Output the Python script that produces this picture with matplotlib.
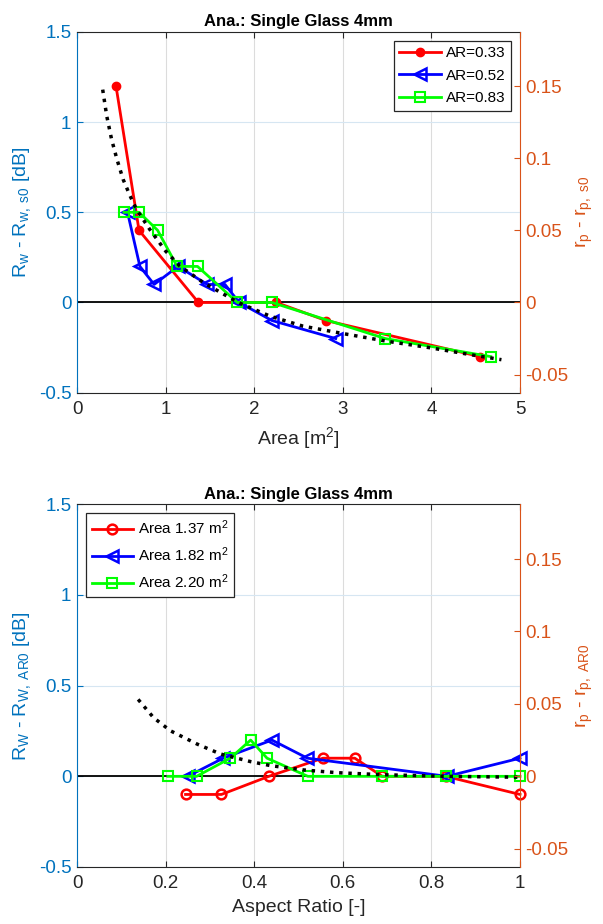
import numpy as np
import matplotlib.pyplot as plt

plt.rcParams['font.family'] = ['Liberation Sans', 'DejaVu Sans']
plt.rcParams['mathtext.fontset'] = 'custom'
plt.rcParams['mathtext.rm'] = 'Liberation Sans'
plt.rcParams['mathtext.it'] = 'Liberation Sans'

BLUE_AX = '#0072BD'
ORANGE_AX = '#D95319'

# --- area sweep (top) ---
area_033 = [0.44, 0.70, 1.37, 2.25, 2.81, 4.55]
drw_033 = [1.2, 0.4, 0.0, 0.0, -0.1, -0.3]

area_052 = [0.57, 0.71, 0.87, 1.14, 1.47, 1.67, 1.83, 2.20, 2.92]
drw_052 = [0.5, 0.2, 0.1, 0.2, 0.1, 0.1, 0.0, -0.1, -0.2]

area_083 = [0.53, 0.70, 0.91, 1.13, 1.36, 1.81, 2.20, 3.48, 4.67]
drw_083 = [0.5, 0.5, 0.4, 0.2, 0.2, 0.0, 0.0, -0.2, -0.3]

fit_area = [0.29, 0.335, 0.39, 0.45, 0.52, 0.60, 0.67, 0.82, 1.0, 1.16, 1.43,
            1.82, 2.18, 2.55, 3.0, 3.5, 4.0, 4.44, 4.79]
fit_area_y = [1.18, 1.035, 0.905, 0.795, 0.683, 0.59, 0.517, 0.406, 0.285,
              0.202, 0.109, 0.0, -0.076, -0.131, -0.172, -0.215, -0.252,
              -0.289, -0.317]

# --- aspect ratio sweep (bottom) ---
ar_137 = [0.245, 0.326, 0.433, 0.555, 0.627, 0.689, 0.832, 1.0]
drw_137 = [-0.1, -0.1, 0.0, 0.1, 0.1, 0.0, 0.0, -0.1]

ar_182 = [0.25, 0.33, 0.44, 0.52, 0.835, 1.0]
drw_182 = [0.0, 0.1, 0.2, 0.1, 0.0, 0.1]

ar_220 = [0.205, 0.27, 0.346, 0.392, 0.429, 0.521, 0.689, 0.832, 1.0]
drw_220 = [0.0, 0.0, 0.1, 0.2, 0.1, 0.0, 0.0, 0.0, 0.0]

fit_ar = [0.138, 0.173, 0.211, 0.271, 0.324, 0.392, 0.437, 0.512, 0.587,
          0.689, 0.832, 1.0]
fit_ar_y = [0.424, 0.323, 0.251, 0.178, 0.123, 0.081, 0.059, 0.035, 0.020,
            0.009, 0.0, -0.005]

right_scale = 0.1252
right_ticks = [-0.05, 0, 0.05, 0.1, 0.15]


def style_axes(ax, xlim, xticks, xlabel, ylabel, rlabel):
    ax.set_xlim(xlim)
    ax.set_ylim(-0.5, 1.5)
    ax.set_xticks(xticks)
    ax.set_yticks([-0.5, 0, 0.5, 1, 1.5])
    ax.set_xticklabels([f'{t:g}' for t in xticks])
    ax.set_yticklabels(['-0.5', '0', '0.5', '1', '1.5'])
    ax.tick_params(direction='in', length=4, labelsize=13.5, top=True,
                   colors='#262626')
    ax.tick_params(axis='x', pad=6)
    ax.tick_params(axis='y', colors=BLUE_AX, pad=4)
    ax.spines['left'].set_color(BLUE_AX)
    ax.spines['right'].set_visible(False)
    ax.spines['top'].set_color('#262626')
    ax.spines['bottom'].set_color('#262626')
    ax.grid(True, axis='x', color='#dcdcdc', lw=0.8)
    ax.grid(True, axis='y', color='#d6e6f2', lw=0.8)
    ax.set_axisbelow(True)
    ax.axhline(0, color='k', lw=1.3, zorder=1)
    ax.set_xlabel(xlabel, fontsize=14, color='#262626', labelpad=5)
    ax.set_ylabel(ylabel, fontsize=14, color=BLUE_AX, labelpad=4)
    ax.set_title('Ana.: Single Glass 4mm', fontsize=12, fontweight='bold',
                 pad=4)

    ax2 = ax.twinx()
    ax2.set_ylim(-0.5 * right_scale, 1.5 * right_scale)
    ax2.set_yticks(right_ticks)
    ax2.set_yticklabels(['-0.05', '0', '0.05', '0.1', '0.15'])
    ax2.tick_params(direction='in', length=4, labelsize=13.5,
                    colors=ORANGE_AX, pad=4)
    for s in ['left', 'top', 'bottom']:
        ax2.spines[s].set_visible(False)
    ax2.spines['right'].set_color(ORANGE_AX)
    ax2.set_ylabel(rlabel, fontsize=14, color=ORANGE_AX, labelpad=4)
    return ax2


def add_legend(ax, loc):
    leg = ax.legend(loc=loc, fontsize=11, fancybox=False,
                    edgecolor='#262626', framealpha=1, borderpad=0.35,
                    labelspacing=0.55, handlelength=2.7, handletextpad=0.35,
                    borderaxespad=0.6)
    leg.get_frame().set_linewidth(0.9)
    return leg


fig = plt.figure(figsize=(6.03, 9.24), dpi=100)

ax = fig.add_axes([0.1277, 0.575, 0.7347, 0.3905])
style_axes(ax, (0, 5), [0, 1, 2, 3, 4, 5], 'Area [m$^2$]',
           'R$_w$ - R$_{w,\\ s0}$ [dB]', 'r$_p$ - r$_{p,\\ s0}$')
ax.plot(area_033, drw_033, '-o', color='#ff0000', lw=2, ms=6,
        mfc='#ff0000', label='AR=0.33', zorder=3)
ax.plot(area_052, drw_052, '-<', color='#0000ff', lw=2, ms=9, mew=1.8,
        mfc='none', label='AR=0.52', zorder=3)
ax.plot(area_083, drw_083, '-s', color='#00ff00', lw=2, ms=7, mew=1.5,
        mfc='none', label='AR=0.83', zorder=3)
ax.plot(fit_area, fit_area_y, ':', color='k', lw=2.5, zorder=4)
add_legend(ax, 'upper right')

bx = fig.add_axes([0.1277, 0.0617, 0.7347, 0.3925])
style_axes(bx, (0, 1), [0, 0.2, 0.4, 0.6, 0.8, 1], 'Aspect Ratio [-]',
           'R$_W$ - R$_{W,\\ AR0}$ [dB]', 'r$_p$ - r$_{p,\\ AR0}$')
bx.plot(ar_137, drw_137, '-o', color='#ff0000', lw=2, ms=7, mew=1.8,
        mfc='none', label='Area 1.37 m$^2$', zorder=3, clip_on=False)
bx.plot(ar_182, drw_182, '-<', color='#0000ff', lw=2, ms=9, mew=1.8,
        mfc='none', label='Area 1.82 m$^2$', zorder=3, clip_on=False)
bx.plot(ar_220, drw_220, '-s', color='#00ff00', lw=2, ms=7, mew=1.5,
        mfc='none', label='Area 2.20 m$^2$', zorder=3, clip_on=False)
bx.plot(fit_ar, fit_ar_y, ':', color='k', lw=2.5, zorder=4)
add_legend(bx, 'upper left')

fig.savefig('out.png', dpi=100)
